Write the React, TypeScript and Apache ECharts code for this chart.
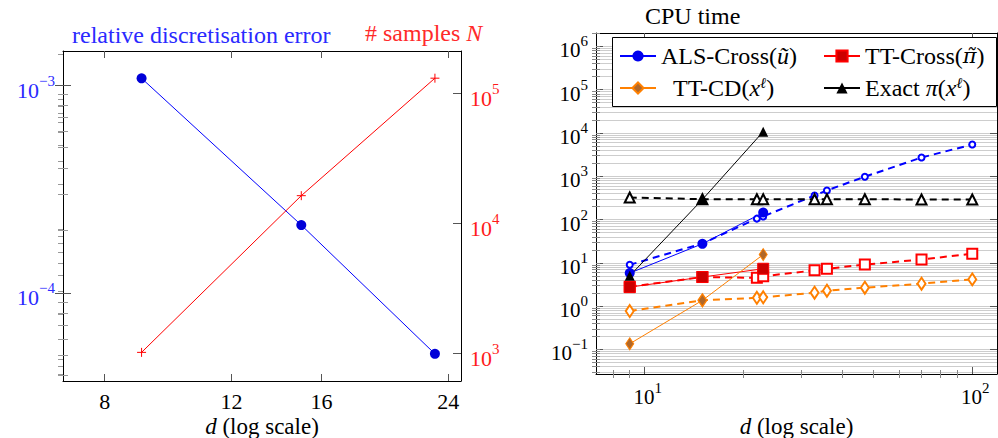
import React, { useEffect, useRef } from "react";
import * as echarts from "echarts";

const FONT = "Liberation Serif";

// ---------- Left panel data ----------
const dLeft = [9, 15, 23];
const relErr = [1.08e-3, 2.12e-4, 5.08e-5];
const samplesN = [1024, 16384, 131072];
const leftXTicks = [8, 12, 16, 24];
const leftErrMajor = [1e-4, 1e-3];
const leftNMajor = [1e3, 1e4, 1e5];

// ---------- Right panel data ----------
const dSolid = [9, 15, 23];
const alsSolid = [5.8, 27.5, 145];
const ttCrossSolid = [2.75, 4.7, 7.3];
const ttCdSolid = [0.135, 1.36, 15.5];
const exactSolid = [5.0, 290, 10700];

const dDashed = [9, 15, 22, 23, 33, 36, 47, 70, 100];
const alsDashed = [9, 28, 105, 118, 360, 470, 975, 2700, 5400];
const ttCrossDashed = [2.8, 4.7, 4.5, 4.9, 6.7, 7.3, 9.1, 11.9, 16.3];
const ttCdDashed = [0.77, 1.36, 1.56, 1.6, 2.04, 2.27, 2.67, 3.3, 4.15];
const exactDashed = [323, 295, 295, 295, 295, 295, 295, 290, 290];

const rightXMajor = [10, 100];
const rightYMajor = [0.1, 1, 10, 100, 1e3, 1e4, 1e5, 1e6];

const legendLabels: Record<string, string> = {
  "ALS-Cross": "ALS-Cross({i|ũ})",
  "TT-Cross": "TT-Cross({pt|π̃})",
  "TT-CD": "{p|}TT-CD({i|x}{s|ℓ})",
  Exact: "Exact {i|π}({i|x}{s|ℓ})",
};

// axis ranges
const LX: [number, number] = [7.0, 25.0];
const LY0: [number, number] = [3.76e-5, 1.462e-3];
const LY1: [number, number] = [617, 2.12e5];
const RX: [number, number] = [7.1, 119];
const RY: [number, number] = [0.0271, 2.03e6];

const L = { left: 63, top: 51, width: 398, height: 330 };
const R = { left: 596, top: 33, width: 401, height: 341 };

function logMinor(lo: number, hi: number, includeMajor: boolean) {
  const out: number[] = [];
  for (let k = Math.floor(Math.log10(lo)); k <= Math.ceil(Math.log10(hi)); k++) {
    for (let m = includeMajor ? 1 : 2; m <= 9; m++) {
      const v = +(m * Math.pow(10, k)).toPrecision(6);
      if (v >= lo && v <= hi) out.push(v);
    }
  }
  return out;
}

const zip = (xs: number[], ys: number[]) => xs.map((x, i) => [x, ys[i]]);

const supText = (v: number) => {
  const e = Math.round(Math.log10(v));
  return `{b|10}{s|${e < 0 ? "−" + -e : e}}`;
};
const supRich = (fill: string, size: number) => ({
  b: { fontFamily: FONT, fontSize: size, fill, lineHeight: size + 6, verticalAlign: "bottom" },
  s: { fontFamily: FONT, fontSize: Math.round(size * 0.7), fill, lineHeight: Math.round(size * 0.7), verticalAlign: "top" },
});

function buildOption() {
  const grids: any[] = [];
  const xAxes: any[] = [];
  const yAxes: any[] = [];
  const addGrid = (r: any) => {
    grids.push({ ...r, containLabel: false, outerBoundsMode: "none", show: false });
    return grids.length - 1;
  };
  const tick = (values: number[], len: number, color: string) => ({
    show: true, inside: true, length: len, customValues: values, lineStyle: { color, width: 1 },
  });
  const hiddenAxis = (gi: number) => ({ gridIndex: gi, type: "value", show: false, min: 0, max: 1 });
  const blackLine = { show: true, onZero: false, lineStyle: { color: "#000", width: 1 } };
  const noLabel = { show: false };
  const noSplit = { show: false };

  // ----- Left main grid -----
  const gL = addGrid(L);
  const xL = xAxes.length;
  xAxes.push({
    gridIndex: gL, type: "log", position: "bottom", min: LX[0], max: LX[1],
    axisLine: blackLine, axisTick: tick(leftXTicks, 7, "#555"), axisLabel: noLabel, splitLine: noSplit,
  });
  xAxes.push({
    gridIndex: gL, type: "log", position: "top", min: LX[0], max: LX[1],
    axisLine: blackLine, axisTick: tick(leftXTicks, 7, "#555"), axisLabel: noLabel, splitLine: noSplit,
  });
  const yErr = yAxes.length;
  yAxes.push({
    gridIndex: gL, type: "log", position: "left", min: LY0[0], max: LY0[1],
    axisLine: blackLine, axisTick: tick(leftErrMajor, 8, "#555"), axisLabel: noLabel, splitLine: noSplit,
  });
  const yN = yAxes.length;
  yAxes.push({
    gridIndex: gL, type: "log", position: "right", min: LY1[0], max: LY1[1],
    axisLine: blackLine, axisTick: tick(leftNMajor, 8, "#555"), axisLabel: noLabel, splitLine: noSplit,
  });
  const leftOverlayY = (pos: string, ext: [number, number], values: number[], len: number, color: string) => {
    const g = addGrid(L);
    xAxes.push(hiddenAxis(g));
    yAxes.push({
      gridIndex: g, type: "log", position: pos, min: ext[0], max: ext[1],
      axisLine: { show: false }, axisTick: tick(values, len, color), axisLabel: noLabel, splitLine: noSplit,
    });
  };
  leftOverlayY("left", LY0, logMinor(LY0[0], LY0[1], false), 5, "#999");
  leftOverlayY("right", LY0, logMinor(LY0[0], LY0[1], false), 5, "#999");
  leftOverlayY("right", LY0, leftErrMajor, 8, "#555");
  leftOverlayY("right", LY1, logMinor(LY1[0], LY1[1], false), 5, "#999");

  // ----- Right main grid -----
  const gR = addGrid(R);
  const xR = xAxes.length;
  xAxes.push({
    gridIndex: gR, type: "log", position: "bottom", min: RX[0], max: RX[1],
    axisLine: blackLine, axisTick: tick(rightXMajor, 7, "#555"), axisLabel: noLabel, splitLine: noSplit,
  });
  xAxes.push({
    gridIndex: gR, type: "log", position: "top", min: RX[0], max: RX[1],
    axisLine: blackLine, axisTick: tick(rightXMajor, 7, "#555"), axisLabel: noLabel, splitLine: noSplit,
  });
  const yR = yAxes.length;
  yAxes.push({
    gridIndex: gR, type: "log", position: "left", min: RY[0], max: RY[1],
    axisLine: blackLine, axisTick: tick(rightYMajor, 7, "#555"), axisLabel: noLabel, splitLine: noSplit,
  });
  yAxes.push({
    gridIndex: gR, type: "log", position: "right", min: RY[0], max: RY[1],
    axisLine: blackLine, axisTick: tick(rightYMajor, 7, "#555"), axisLabel: noLabel, splitLine: noSplit,
  });
  const rightXMinor = logMinor(RX[0], RX[1], false);
  const rightYAll = logMinor(RY[0], RY[1], true);
  const rightYMinor = logMinor(RY[0], RY[1], false);
  for (const pos of ["bottom", "top"]) {
    const g = addGrid(R);
    xAxes.push({
      gridIndex: g, type: "log", position: pos, min: RX[0], max: RX[1],
      axisLine: { show: false }, axisTick: tick(rightXMinor, 4, "#888"), axisLabel: noLabel, splitLine: noSplit,
    });
    yAxes.push(hiddenAxis(g));
  }
  {
    const g = addGrid(R);
    xAxes.push(hiddenAxis(g));
    yAxes.push({
      gridIndex: g, type: "log", position: "left", min: RY[0], max: RY[1],
      axisLine: { show: false }, axisTick: tick(rightYAll, 4, "#888"), axisLabel: noLabel,
      splitLine: { show: true, lineStyle: { color: "#cdcdcd", width: 1 } },
    });
  }
  {
    const g = addGrid(R);
    xAxes.push(hiddenAxis(g));
    yAxes.push({
      gridIndex: g, type: "log", position: "right", min: RY[0], max: RY[1],
      axisLine: { show: false }, axisTick: tick(rightYMinor, 4, "#888"), axisLabel: noLabel, splitLine: noSplit,
    });
  }

  const plusPath = "path://M0,5L10,5M5,0L5,10";
  const BLUE = "#0000ff";
  const RED = "#ff0000";
  const ORANGE = "#ff8000";
  const dash = [7, 5];

  const series: any[] = [
    {
      type: "line", name: "err", xAxisIndex: xL, yAxisIndex: yErr, data: zip(dLeft, relErr),
      symbol: "circle", symbolSize: 10, lineStyle: { color: BLUE, width: 1 }, itemStyle: { color: "#0000d8" }, z: 3,
    },
    {
      type: "line", name: "N", xAxisIndex: xL, yAxisIndex: yN, data: zip(dLeft, samplesN),
      symbol: plusPath, symbolSize: 9, lineStyle: { color: RED, width: 1 },
      itemStyle: { color: "none", borderColor: RED, borderWidth: 1 }, z: 3,
    },
    {
      type: "line", name: "ALS-Cross dashed", xAxisIndex: xR, yAxisIndex: yR, data: zip(dDashed, alsDashed),
      symbol: "emptyCircle", symbolSize: 6, lineStyle: { color: BLUE, width: 2, type: dash },
      itemStyle: { color: BLUE, borderColor: BLUE, borderWidth: 1.2 },
    },
    {
      type: "line", name: "TT-Cross dashed", xAxisIndex: xR, yAxisIndex: yR, data: zip(dDashed, ttCrossDashed),
      symbol: "emptyRect", symbolSize: 10, lineStyle: { color: RED, width: 2, type: dash },
      itemStyle: { color: RED, borderColor: RED, borderWidth: 2 },
    },
    {
      type: "line", name: "TT-CD dashed", xAxisIndex: xR, yAxisIndex: yR, data: zip(dDashed, ttCdDashed),
      symbol: "emptyDiamond", symbolSize: [8, 12], lineStyle: { color: ORANGE, width: 2, type: dash },
      itemStyle: { color: ORANGE, borderColor: ORANGE, borderWidth: 1.6 },
    },
    {
      type: "line", name: "Exact dashed", xAxisIndex: xR, yAxisIndex: yR, data: zip(dDashed, exactDashed),
      symbol: "emptyTriangle", symbolSize: 10, lineStyle: { color: "#000", width: 2, type: dash },
      itemStyle: { color: "#000", borderColor: "#000", borderWidth: 1.8 },
    },
    {
      type: "line", name: "ALS-Cross", xAxisIndex: xR, yAxisIndex: yR, data: zip(dSolid, alsSolid),
      symbol: "circle", symbolSize: 10, lineStyle: { color: BLUE, width: 1 }, itemStyle: { color: "#0000ee" }, z: 3,
    },
    {
      type: "line", name: "TT-Cross", xAxisIndex: xR, yAxisIndex: yR, data: zip(dSolid, ttCrossSolid),
      symbol: "rect", symbolSize: 11, lineStyle: { color: RED, width: 1 },
      itemStyle: { color: "#cc0000", borderColor: RED, borderWidth: 1 }, z: 3,
    },
    {
      type: "line", name: "TT-CD", xAxisIndex: xR, yAxisIndex: yR, data: zip(dSolid, ttCdSolid),
      symbol: "diamond", symbolSize: [8, 12], lineStyle: { color: ORANGE, width: 1 },
      itemStyle: { color: "#b0682a", borderColor: ORANGE, borderWidth: 1 }, z: 3,
    },
    {
      type: "line", name: "Exact", xAxisIndex: xR, yAxisIndex: yR, data: zip(dSolid, exactSolid),
      symbol: "triangle", symbolSize: 10, lineStyle: { color: "#000", width: 1 }, itemStyle: { color: "#000" }, z: 3,
    },
  ];

  const legendText = {
    fontFamily: FONT, fontSize: 24, lineHeight: 26, color: "#000",
    rich: {
      i: { fontFamily: FONT, fontSize: 24, lineHeight: 26, fontStyle: "italic", color: "#000" },
      pt: { fontFamily: "DejaVu Serif", fontSize: 21, lineHeight: 26, fontStyle: "italic", color: "#000" },
      s: { fontFamily: FONT, fontSize: 15, lineHeight: 15, fontStyle: "italic", color: "#000", verticalAlign: "top" },
      p: { width: 12 },
    },
  };
  const legendBase = {
    orient: "vertical", top: 38, itemWidth: 36, itemHeight: 14, itemGap: 6, padding: 5,
    textStyle: legendText,
    formatter: (name: string) => legendLabels[name] || name,
    selectedMode: false,
  };

  const graphic: any[] = [
    {
      type: "rect", left: 612, top: 37, z: 3,
      shape: { width: 384, height: 69 },
      style: { fill: "#fff", stroke: "#000", lineWidth: 1 },
    },
    {
      type: "text", left: 72, top: 23, z: 5,
      style: { text: "relative discretisation error", fontFamily: FONT, fontSize: 24, fill: "#2a2aff" },
    },
    {
      type: "text", left: 365, top: 21, z: 5,
      style: {
        text: "# samples {i|N}", fontFamily: FONT, fontSize: 24, fill: "#ff2a2a",
        rich: { i: { fontFamily: FONT, fontSize: 24, fontStyle: "italic", fill: "#ff2a2a" } },
      },
    },
    {
      type: "text", left: 645, top: 4, z: 5,
      style: { text: "CPU time", fontFamily: FONT, fontSize: 24, fill: "#000" },
    },
  ];

  return {
    option: {
      animation: false,
      textStyle: { fontFamily: FONT },
      grid: grids,
      xAxis: xAxes,
      yAxis: yAxes,
      series,
      legend: [
        { ...legendBase, left: 614, data: ["ALS-Cross", "TT-CD"] },
        { ...legendBase, left: 818, data: ["TT-Cross", "Exact"] },
      ],
      graphic,
    },
    idx: { xL, yErr, yN, xR, yR },
  };
}

// Tick labels and axis titles, placed through the axes' own scales (convertToPixel)
function axisTexts(chart: any, idx: any) {
  const px = (q: any, v: number) => chart.convertToPixel(q, v) as number;
  const out: any[] = [];
  const txt = (x: number, y: number, style: any) =>
    out.push({ type: "text", x, y, z: 5, silent: true, style: { fontFamily: FONT, ...style } });

  // left panel
  for (const v of leftXTicks) {
    txt(px({ xAxisIndex: idx.xL }, v), L.top + L.height + 9, {
      text: String(v), fontSize: 22, fill: "#000", align: "center", verticalAlign: "top",
    });
  }
  for (const v of leftErrMajor) {
    txt(L.left - 8, px({ yAxisIndex: idx.yErr }, v) + 2, {
      text: supText(v), rich: supRich("#2a2aff", 22), align: "right", verticalAlign: "middle",
    });
  }
  for (const v of leftNMajor) {
    txt(L.left + L.width + 9, px({ yAxisIndex: idx.yN }, v) + 2, {
      text: supText(v), rich: supRich("#ff1a1a", 22), align: "left", verticalAlign: "middle",
    });
  }
  // right panel
  for (const v of rightXMajor) {
    txt(px({ xAxisIndex: idx.xR }, v) + 3, R.top + R.height + 6, {
      text: supText(v), rich: supRich("#000", 21), align: "center", verticalAlign: "top",
    });
  }
  for (const v of rightYMajor) {
    txt(R.left - 8, px({ yAxisIndex: idx.yR }, v) + 1, {
      text: supText(v), rich: supRich("#000", 21), align: "right", verticalAlign: "middle",
    });
  }
  const nameRich = {
    i: { fontFamily: FONT, fontSize: 23, fontStyle: "italic", fill: "#000" },
  };
  txt(L.left + L.width / 2, 426, {
    text: "{i|d} (log scale)", fontSize: 23, fill: "#000", rich: nameRich, align: "center", verticalAlign: "middle",
  });
  txt(R.left + R.width / 2, 426, {
    text: "{i|d} (log scale)", fontSize: 23, fill: "#000", rich: nameRich, align: "center", verticalAlign: "middle",
  });
  return out;
}

export default function App() {
  const ref = useRef<HTMLDivElement>(null);
  useEffect(() => {
    if (!ref.current) return;
    const chart = echarts.init(ref.current, undefined, { renderer: "svg" });
    const { option, idx } = buildOption();
    chart.setOption(option as any);
    chart.setOption({ graphic: [...option.graphic, ...axisTexts(chart, idx)] } as any);
    return () => chart.dispose();
  }, []);
  return (
    <div
      ref={ref}
      style={{ position: "fixed", left: 0, top: 0, width: 998, height: 438, background: "#fff" }}
    />
  );
}
